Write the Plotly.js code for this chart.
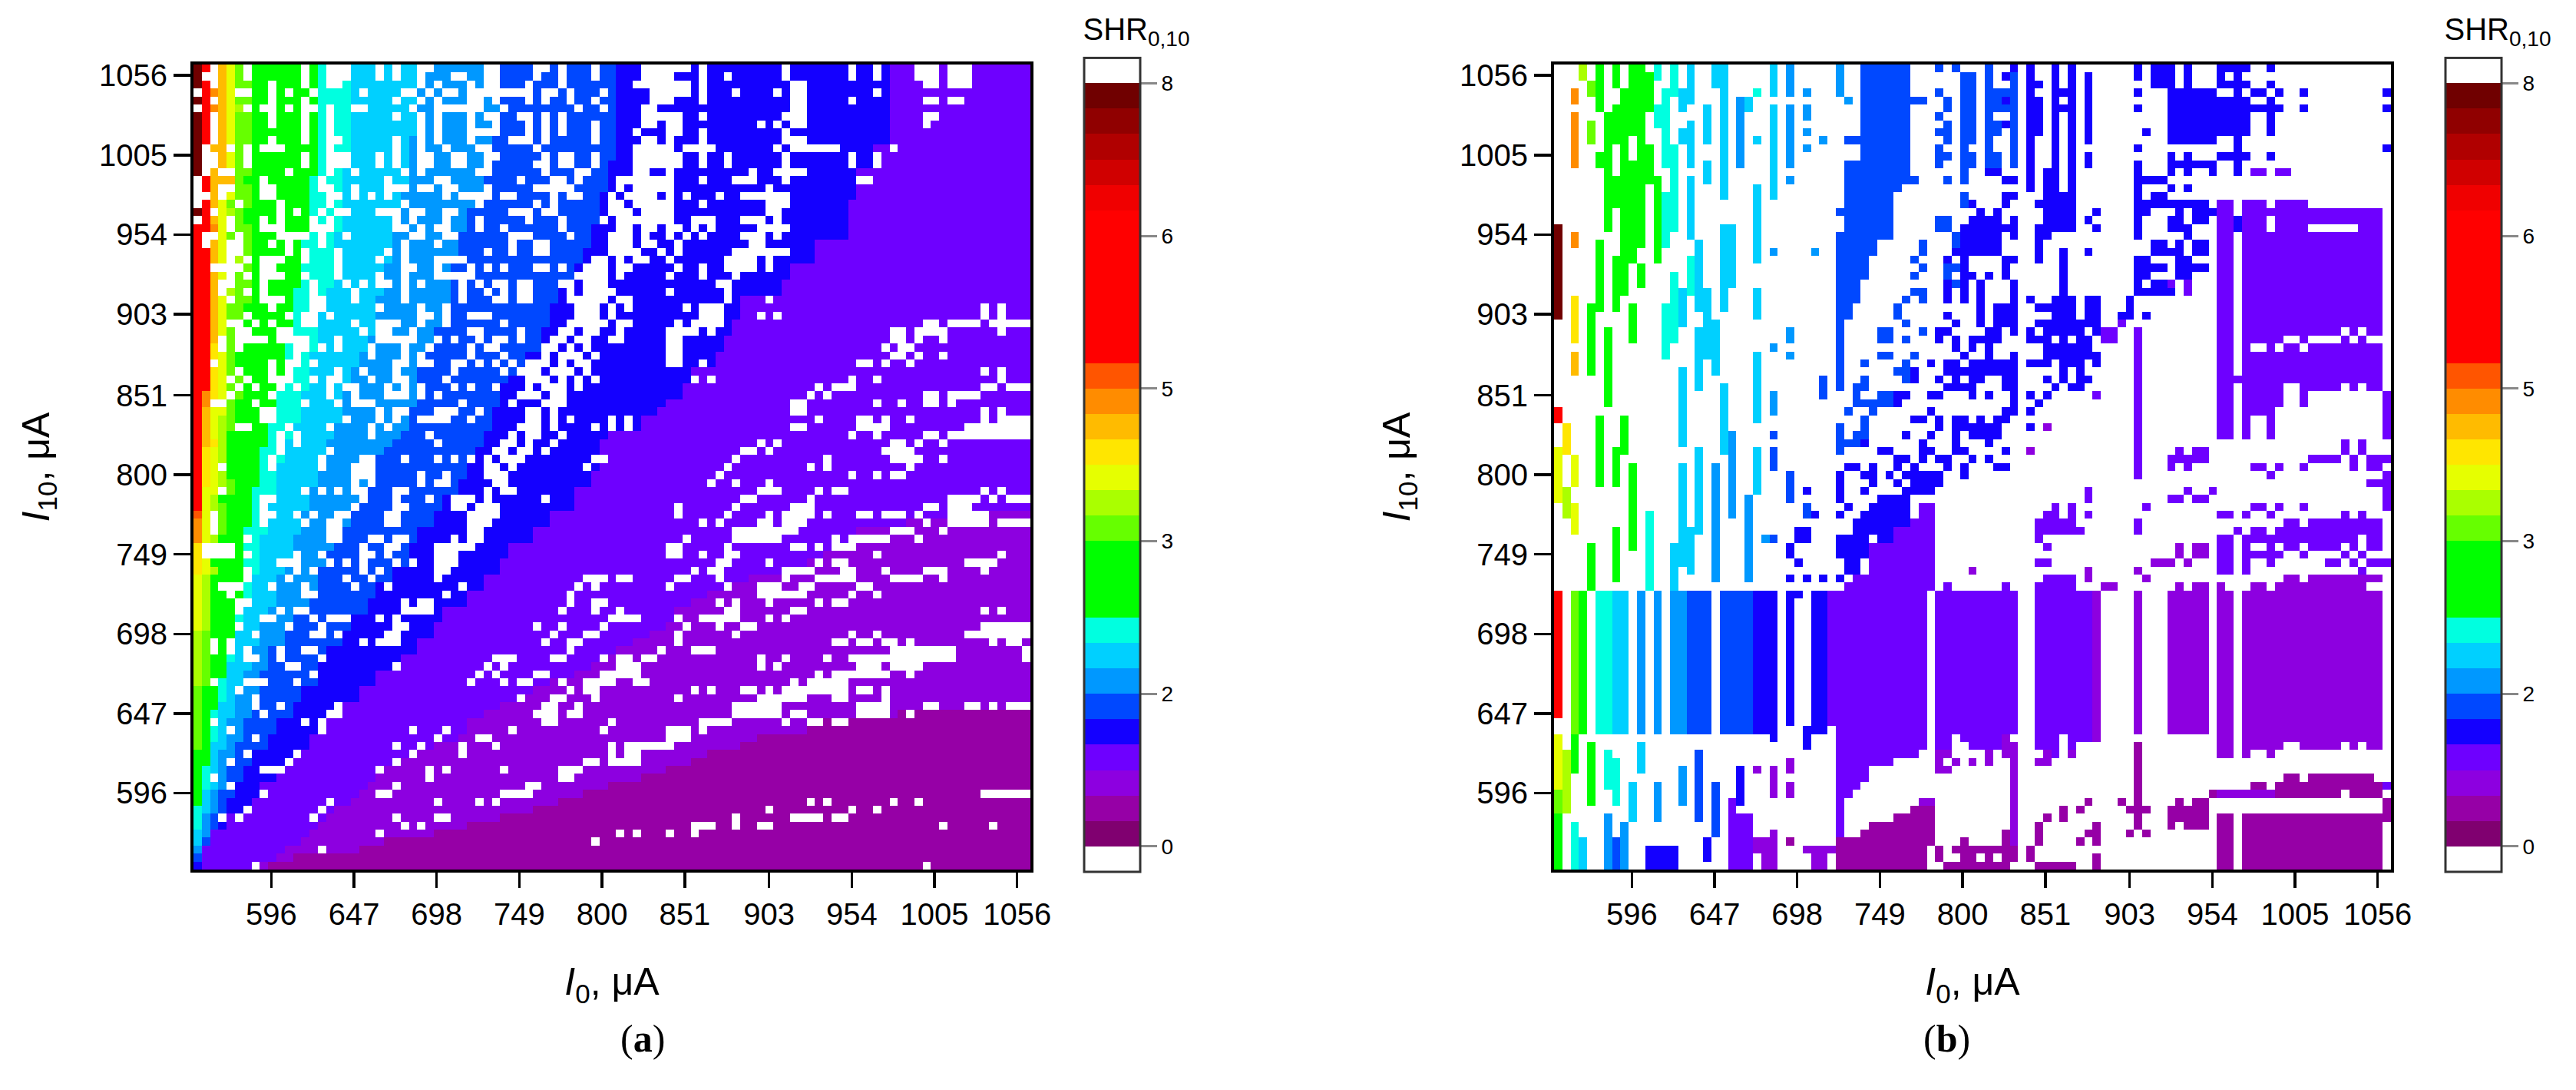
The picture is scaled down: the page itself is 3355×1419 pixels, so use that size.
<!DOCTYPE html>
<html>
<head>
<meta charset="utf-8">
<script src="https://cdn.plot.ly/plotly-3.0.1.min.js"></script>
<style>body{margin:0;background:#fff}</style>
</head>
<body>
<div id="chart" style="width:3355px;height:1419px"></div>
<script>
const tickValues = [596, 647, 698, 749, 800, 851, 903, 954, 1005, 1056]
const barTicks = [0, 6, 12, 18, 24, 30]
const barLabels = ['0', '2', '3', '5', '6', '8']
const bandColors = ['#800070','#9600a6','#8d00e0','#6e00ff','#1400ff','#0048ff','#0098ff','#00d0ff','#00ffe0','#00ff00','#00ff00','#00ff00','#66ff00','#aaff00','#e6ff00','#ffe600','#ffbb00','#ff8c00','#ff5500','#ff0000','#ff0000','#ff0000','#ff0000','#ff0000','#ff0000','#f00000','#d00000','#b00000','#900000','#700000']
// one letter per colour band, '.' is a missing cell
const bandCodes = '0123456789abcdefghijklmnopqrst'

// panel (a): first columns of each row, top row first
const aLeft = ['tj.gec.','t..gec.','tj.gecc','.jhge..','tj.gecc','.jhged.','tj.gecc','tj.gecc','tj.gecc','tj.gecc',
  't.gg.c.','t..gec.','t..gec.','t.g..cc','.jgggc','.jg..cc','..g.ecc','.jgec.c','tj.edc9','.jge.c9',
  'jjhe.cc','j..ec.c','j.ge..c','jjge..c','jjge.d.','jj....c','jjge.c.','jjg..cc','jjg.dc.','jjge.cc',
  'jjgecc','jjgecc.','jjge..9','jjgec.9','jjg.c..','jjf.c.9','jjfec99','jj.ec99','jjfec.9','jjfe.c.',
  'jjfec.9','jhfe.c','jh..c','jgeec','jgedc','jgedc','jged9','jgfd9','jfed9','jfed9',
  'jfe.9','jfed9','jfedc','jee.c','jed9','jedc','ie.c9','he.c9','he.c9','hed9',
  'f...9','f....','fe9','fed9','ed9','ed9','ed9','ed9','ed9','ed9','ed9','dc9','dc9','dc9','dc9','dc9','dc9','dc9',
  'c9','c9','c9','c9','c9','c9','c9','c9','99','99','99','99','99','99','99','9','9','9','9','9','9','9','9']
// panel (a): where each band starts along a row, as [last row, first column]
const aStart8 = [[13,15],[20,14],[27,13],[34,12],[38,11],[43,10],[47,9],[52,8],[57,7],[66,6],[71,5],[76,4],[80,3],[87,2],[92,1],[100,0]]
const aStart7 = [[12,19],[20,18],[27,17],[30,16],[35,15],[40,14],[44,13],[46,12],[49,11],[53,10],[58,9],[63,8],[66,7],[70,6],[74,5],[79,4],[84,3],[90,2],[95,1],[100,0]]
const aStart6 = [[8,27],[14,26],[20,25],[24,24],[28,23],[33,22],[35,21],[37,20],[40,19],[44,18],[46,17],[48,16],[52,15],[55,14],[58,13],[61,12],[63,11],[67,10],[69,9],[72,8],[75,7],[78,6],[81,5],[85,4],[90,3],[93,2],[97,1],[100,0]]
const aStart5 = [[5,37],[12,36],[15,35],[17,34],[20,33],[24,32],[29,31],[32,30],[34,29],[37,28],[42,27],[45,26],[46,25],[47,24],[48,23],[50,22],[53,21],[55,20],[57,19],[60,17],[62,16],[65,15],[68,14],[70,12],[72,11],[75,9],[78,8],[81,7],[84,6],[87,5],[90,4],[93,3],[96,2],[98,1],[100,0]]
const aStart4 = [[11,51],[15,50],[19,49],[22,48],[24,47],[27,46],[29,44],[32,43],[35,42],[38,40],[39,38],[42,37],[45,36],[47,35],[49,34],[51,33],[53,32],[55,30],[57,29],[59,27],[62,26],[64,24],[66,22],[68,21],[70,19],[72,18],[74,16],[77,15],[79,13],[81,12],[83,10],[85,9],[87,7],[89,6],[91,5],[93,4],[95,3],[97,2],[99,1],[100,0]]
const aStart3 = [[9,84],[12,82],[16,80],[21,79],[24,75],[26,72],[28,71],[31,66],[33,65],[35,64],[37,63],[39,60],[41,59],[42,57],[43,56],[45,54],[46,50],[50,49],[52,48],[55,46],[57,43],[59,41],[61,38],[63,37],[65,35],[67,33],[69,30],[71,29],[73,27],[75,25],[77,22],[79,20],[81,18],[83,16],[85,14],[87,12],[89,10],[91,8],[93,7],[95,4],[97,2],[100,1]]
const aStart2 = [[55,101],[56,92],[57,86],[59,80],[60,78],[61,76],[62,74],[63,73],[64,67],[65,64],[66,62],[67,60],[69,58],[70,57],[71,55],[72,53],[73,51],[74,50],[75,48],[76,46],[77,43],[78,41],[79,39],[80,37],[81,35],[83,33],[84,32],[85,29],[86,27],[87,25],[88,23],[89,22],[90,21],[91,20],[92,19],[93,17],[94,16],[95,15],[96,14],[97,13],[98,11],[99,10],[100,8]]
const aStart1 = [[80,101],[81,85],[82,75],[83,74],[84,68],[85,66],[86,62],[87,60],[88,57],[89,54],[90,50],[91,47],[92,44],[93,41],[94,37],[95,33],[96,29],[97,23],[98,20],[99,12],[100,9]]
// panel (a): missing cells per row, as column numbers
const aHoles = [
'6 13 16-18 22 24 27-28 35-36 41-42 44 48 54-59 61 71 79 82 87-89 91-93',
'13 16-18 22 24 27 31-32 35-36 41 44 48 54-57 61 64 71 79 82 87-89 91-93',
'9 13 16-17 27 29 33 35-36 40 44 53-59 61 72-73 88-89 91-93',
'9 11 14 20 25-26 28 30-31 33-40 42-43 45 49 55-59 61 65 70 72-73 82',
'9 13 24 27 29 33-34 36 40 42 45 48 55-57 61 72-73 79 88-89 91-92',
'8-9 11 13-14 16 19-20 26 29-34 37 46 49 54-55 72-73',
'9 13 16 24 27 29 33 35-36 39-40 42 44 54-58 61 71-73 88-89',
'9 13 16 27 29 33 36 40 42 44 48 54-55 57-58 68 70 72-73 88',
'13 16 27 29 33-36 40 42 44 48 53 57-58 61 71',
'9 13 16-17 24 27 29 33 38-40 42 48 54-55 57 61 71-73',
'8-10 16 24 27 30 34-35 41 53-57 59-62 70 72-77 84',
'13 16-18 22 24 27-28 31-32 35-36 42 44-45 48 53-58 61 64 71 79 82',
'13 16-18 22 24 27-28 31-32 35 41-42 44-45 48 53-58 61 64 71 79 82',
'11 16 19 25 27 34-35 42 46-47 53-54 57 67 70-73',
'8 15 23 29-30 39 43-44 46 51-57 61 65-67 71 80-81',
'8-9 15-16 19 23-25 27-28 30-31 35 41-45 51 53-57 69',
'8-9 16-17 19 21 23 30 32-35 37-38 43 45-46 50 52-55 57 59 63 66-71',
'10 16 25 34 41 43 50-51 53-57 61 69-71',
'10 12 15 17-18 22-24 26-27 30-31 38-40 42-43 50-52 54-57 69-70',
'8 10 14 16 24 26 30 34 40 44 49 51-57 60-62 66-68 70',
'8-10 14-16 24-25 27 29-30 34 37 44 51-52 54-55 57-58 60 62 68-71',
'10-13 15 18 26-27 30-31 38-40 45 50-52 54 57 59 61 66-68 70',
'9 11 15 25 29 38 41-42 50-52 54-55 58 67-68',
'11 13 17 23 25 35 38 41-42 50-53 56 58 65-71',
'8-10 13 17 22 25 29-32 48-49 51 53-54 57 64-67 69',
'8-9 17 25-26 29 33 35 37 41-42 44 47-49 51-52 58 61 64-67 69',
'8-10 13 17 22 25 29-33 46-49 51 57 61 65',
'8 14 18 20 22-23 25 27 32 34 36-37 39-40 44-45 47-49 63-64',
'8 14 19 25 32 35 37 39-40 45 47-50 57 64',
'8-10 14-15 19 25 32 36-37 39-40 45-49 51-52 64 69',
'9 14-15 22 27 30 46-48 50 52 59 61-63 95 97',
'11 13-14 16 27-28 30 33-35 46-48 50 61-63 68 70 95 97',
'7 9 13-14 19 22-24 27 30 37 45-49 51-52 58 60-63 88-89 91-94 96-100',
'6 10-11 20 22-23 26 33-34 39 44-45 47-48 51 57-60 62 84-85 87-90 97',
'7-8 10-13 17 22-26 29 31 34 36-37 39 43-44 46-47 50-51 57-58 84-85 87 90',
'12-13 15 17 21 25 28 33 35-36 42-43 45 47 57-58 83 85-86',
'12 21 25 27 33 37 42 44-46 48 57-58 84-85 87 90',
'9 11-12 14 24-25 27-28 31-32 34 36 38 40-42 44 46-47 57-58 61 80-81 83 86',
'9 11 17 20 24 31 37 39-41 43-45 47 95 97',
'9-11 14 16-17 21 24-25 30 40-42 44 46 48 60 62 79 82 97',
'7 10 12 16 18-19 23 25 27 31 33 36 40 42-44 46 75 77-79 95-96 98-100',
'9 16 19 23-25 27 29 39-41 43-44 74 76 88-89 91-94',
'7 13 17 19-21 32 38 42-44 72-73 82 85 88-89 91',
'8-9 22 24-25 29-31 34 40-41 43 72-73 95 97',
'8-9 18 22 24 27-30 33 40-41 43 45 50 52 75 80-81 83 86 95 97-100',
'5-6 11 16 21 23 39-41 43 48 50 52 72-73 80-83 93-100',
'10 12 21 28 38 40-41 44 79 82 88-89 91-100',
'10 12 29 37-38 40 43 68 70 84-85 87 90',
'10 16 36-37 39-40 42 66-67 69 83-86',
'9 15 20-21 25 29 31 33 35 37-39 48-49 65 76 84-87 90',
'9 15 19-21 35-36 38 47 64 74 76 86',
'19-21 27 30 35-37 63 79 82 84-85',
'19 21 27 29-30 36-37 62 65 69',
'13 15 17 19-20 24-25 35 37-38 68-70 75 77-78 95 97',
'8-9 20 24 28 31-33 35 42 66-67 74 91-94 96 98-100',
'8 19 24-25 31-32 34-36 58 65 72-74 88-89 91-93',
'8-9 12 14 17-18 23-24 33-36 58 64 69 71-74 76 80-81 83-85 87 91-95',
'8 13 16-17 23-24 33-35 61 63 68-69 71-73 88 91-95 97-100',
'16-17 33-34 65-72 84-86 90',
'6 16-17 21-22 24-25 31 33-34 59 65-70 77 79-83 87',
'1-4 20 23-24 29-33 57-58 64 72-73 75 77-79',
'1-4 6 12 15 20-21 23 29-31 57-58 61 64-65 82 97',
'10-12 16 18 20 24 26 29-31 63-64 69 75 77-78 93-96',
'6 12 14 20 22 29-30 60 62-63 71-74 78-79 83 88-90 95',
'6 11 18 21 29 47-49 51-52 58-59 63 71 75-79 84-87 90',
'3-5 9 13 19 23 32 46 48 57 64 68-70 73-74 80-81',
'4 13-14 30 45 68-73 79 82',
'5-6 25 27-28 45 48-49 63 65 69 75 77-78',
'5 10 12-13 25-28 44 48 51 64-65 72-73 95 97',
'8-9 14 16-18 22 24 50-53 58 61-65 69 71',
'5 11 15 24-25 41 44 49 59 63 66-67 95-100',
'7 14-15 17 23-24 43 47-48 58 65 79 82 93-100',
'2 4 20 22-24 42 45-46 58 77-78 80-81 83-84 86 96 98-99',
'2 4 6 10 13-14 45 56 60-62 84-91 100',
'6-7 10 15 36-38 43-44 49 51-52 54-55 68 71 76 79-91 100',
'11-12 24 35 37 51-53 68 70 80-82 84-87',
'14 34 36 41-42 49-53 75 77-83 86',
'2 6-8 12 33 37 39-40 44 47-50 53-54 72 74-78',
'5 45 47-48 60 62 66-67 69 71-78 80-81 83',
'7 39 43-44 48 58 68-73 77-78 83',
'7 10 17 42-43 46 65-70 80-83 88-89 93-94 96 98-100',
'8 16-17 41-43 45-46 65-70 72-73 80-83 86',
'2 13 15 42-43 50 61-64 71 74-75 77-78',
'4 15 26 30 38 49 57-59 61',
'7 29 34-35 57-59',
'24 27 32 36 50 52-57',
'6 12 26 32 50 52-53',
'4 11 24 47-48 50-53',
'8-10 22 28 30 37 44-46',
'2 28 44-45',
'4 24 40-41',
'8 22-23 37-40 95-100',
'16 29 34 36 74 76 84 87',
'6 15 69 79 82',
'3 5 14 24 29-30 65 72-75 77-78',
'25 27 60-62 65 68-69 90 96',
'22 51 53 57 60',
'48',
'15',
'',
'7 88']

// panel (b): filled patches, 'rows columns band', painted in this order
const bPatches = [
// far left, columns 0-24
'20-31 0 t','3-4 2 h','6-12 2 h','21-22 2 h','29-34 2 f','36-38 2 g','45-48 1 f','49-52 2 e','53-56 1 d','43-44 0 j','48-54 0 e',
'0-1 3 d','2-3 4 c','7-9 4 c','30-38 4 9','0-5 5 9','11-12 5 9','22-30 5 9','44-52 5 9','6-20 6 9','33-42 6 9',
'0-2 7 9','5-9 7 9','14-17 7 9','24-30 7 9','48-52 7 9','3-28 8 9','44-48 8 9','0-8 9 9','12-24 9 9','30-34 9 9','50-54 9 9',
'0-22 10 9','25-27 10 9','1-5 11 9','10-14 11 9','0-1 12 8','5-7 12 8','14-24 12 9','3-12 13 8','16-22 13 8','30-36 13 8',
'0-3 14 8','10-20 14 8','26-34 14 8','3-5 15 7','8-9 15 7','28-32 15 7','38-44 15 7','0-4 16 7','7-12 16 7','14-21 16 7','24-28 16 8',
'22-30 17 7','33-40 17 7','5-9 18 7','12-14 18 7','28-36 18 7','0-2 19 7','32-38 19 7','0-16 20 7','20-30 20 7','40-48 20 7','20-27 21 7',
'4-12 22 6','4-5 23 7','15-24 24 7','28-31 24 7','36-44 24 7','48-53 24 7','3 24 8','9 24 7',
'55-58 2 e','60-65 4 9','58-64 7 9','50-60 9 9','56-65 11 8','44-47 15 7','50-62 15 7','48-58 17 7','50-64 19 6','46-56 21 6','54-64 23 6','60-65 14 7','58-63 16 7',
// lower left stripes
'66-81 0 j','66-83 2 c','66-83 3 9','66-83 5-6 8','66-83 7-8 7','66-83 10 6','66-83 12 6','66-83 14-15 6','66-83 16-18 5','66-83 20-23 5','66-83 24 4',
'84-90 0 e','91-93 0 c','94-100 0 9','86-93 1 d','84-88 2 9','95-100 2 8','97-100 3 7','85-92 4 9','86-90 6 8','87-92 7 8','90-94 9 7','94-100 6 6','97-100 7 5','95-100 8 6',
'85-88 10 7','90-94 12 6','88-92 15 6','98-100 11-14 4','86-94 17 5','90-96 19 5','92-100 21 3','94-100 22-23 3','97-99 18 4','88-92 22 4',
// columns 24-36, upper half
'0-2 26 7','3 26 7','5-16 26 7','0-2 28 6','3 28 6','5-12 28 6','14 28 6','3 30 6','5-6 30 6','8 30 6','10 30 6','9 32 6','0-3 34 6','4 35 6',
'23 26 6','23 31 6','33-34 28 6','35 26 6','36 28 6','41-43 26 6','46 26 5','48-50 26 5','51-54 28 5','53 30 4','55-56 30 5','56 31 4','39-41 32 5',
// the wide blue ridge
'0-8 37-42 5','4 43-44 5','9 35-42 5','10-11 37-42 5','12-13 35-42 5','14 35-43 5','15 35-41 5','16-17 35-40 5','18 34-40 5','19-20 35-40 5','21 34-40 5','22-23 34-38 5','24-26 34-37 5','27-29 34-36 5','30-31 34-35 5','32-40 34 5',
'33-34 39-40 5','22-23 44 5','24 43 5','25 44 5','26 43 5','28 43-44 5','29 42 5','29 44 5','30-31 41 5','32 42 5','33 44 5','34 42 5','36 39-40 5','37 37 5','36 43 5','37 42 5','38 41-42 5','39 42 5','39 37 5','40 36-37 5','41-42 36 5','41 39-40 5','42 36-40 5','43 35 5','43 38 5','44 37 5','45-47 34 5','45 37 5','46 36-37 5','47 34-36 5','48 34 5',
'37 45 4','38 43 4','39 43 4','41 41-42 4','42 41 4','47 37 4',
// second blue group
'0 46 5','3 46 5','6 46 5','8 46 5','10-12 46 5','4-5 47 5','7-9 47 5','11 47 5','14 47 5','0 48 5','1-9 49-50 5','10 49 5','11-12 49-50 5','13-14 49 5','16-17 49 5',
'0-12 52 5','3-5 53 5','7-8 53 5','11-12 53 5','3-5 54 5','4 54 4','1-12 55 5','7 54 4','0 55 4','1 54 4','13 52 4','13 53 4','14 54-55 4','17 50 4','16 54-55 4','17 54 4',
'18 51 4','18 53 4','19-20 46-47 5','19 50-53 4','19 55 4','20 49-55 4','21 49-53 4','21 55 4','21-22 48 5','22 49-53 4','23 48-53 4','24 47 4','24 49 4','24 54-55 4','25 47-48 5','25 49 4','25 54 4','26 47 5','26 49-50 4','26 52 4','26 54 4',
'27-29 47 4','27 48 5','27-29 49 4','27-29 51 4','27-29 55 4','30 51 4','30 53-55 4','31 47 4','31 51 4','31 53-55 4','32 48 4','32 51 4','32 53-55 4','33 46-47 4','33 52-53 4','33 55 4','34 46 4','34 48 4','34 50-53 4','35 48 4','35 50 4','35 52 4','36 49 4','36 52 4','36 55 4','37 47-48 4','37 50-55 4','38 47-55 4','39 46 4','39 48 4','39 50-51 4','39 54-55 4','40 47-50 4','40 54-55 4','41 45-46 4','41 50 4','41 52 4','41 55 4','42 55 4','43 45 4','43 54-55 4','44 43-44 4','44 46 4','44 48-49 4','44 51 4','44 53-54 4','45 46 4','45 48-53 4','46 42 4','46 45 4','46 48 4','46 50-53 4','47 44 4','47 48 4','47 52 4','48 39-40 4','48 44-45 4','48 48-49 4','48 54 4','49 41-42 4','49 44 4','49 46-47 4','49 50 4','49 52 4','50 35-36 4','50 38 4','50 41 4','50 43 4','50 47 4','50 49 4','50 53-54 4',
'51 34 4','51 37-38 4','51 40 4','51 42-46 4','51 49 4','52 34 4','52 38 4','52 41 4','52 43-46 4','53 34 4','53 37 4','53 42-45 4','54 34 4','54 39-42 4','55 35 4','55 38-42 4','55 44-45 3','56 34 4','56 37-42 4','56 44-45 3','57 36-42 4','57 43-45 3','58 36-40 4','58 41-45 3',
// third blue group
'0-15 57 4','2 58 4','4 58 4','5-8 58 4','0-12 60 4','13-15 59-60 4','0-15 62 4','3 60-62 4','5 60-62 4','16-19 59-62 4','20 58-62 4','21 58-59 4','22-23 58 4','1-9 64 4','11-12 64 4','17 58 4','18 65 4','19 64 4','20 65 4','24 58 4','23-24 61 4','23 64 4','25-28 61 4',
'29 57 4','29 60-62 4','29 64-65 4','30 58-62 4','30 64-65 4','31 60-62 4','31 64-65 4','32 58-65 4','33 57 4','33 59-63 4','33 65 4','33 66-67 3','34 57-59 4','34 61 4','34 63-64 4','34 66-67 3','35 59-64 4','36 59-65 4','37 57-59 4','37 61-63 4','37 65 4','38 61 4','38 63 4','39 59 4','39 61 4','39 63-64 4','40 60 4','40 62-63 4','41 57 4','41 59 4','41 65 3','42 58 4','43 57 4','45 57 4','45 59 2','48 57 2',
// columns 68-82, blue and purple
'0-1 70 4','3 70 4','5 70 4','10 70 4','8 71 4','12-21 70 4','14 71-73 4','17 72-73 4','18 71 4','0-2 72-74 4','0-2 76 4','0-1 80 4','3-9 74-79 4','11 74 4','11 76 4','12 74-79 4','13 74 4','13 76 4','13 79 4','15 74 4','15 76 4',
'16 72-73 4','17 70-71 4','17 74-78 4','18 75 4','18 77-80 4','19 74-75 4','19 77-78 4','20 74-76 4','21 76 4','22 72-73 4','22 75 4','22 77-78 4','23 72-75 4','23 77-78 4','24 70-71 4','24 75-76 4','25 70-71 4','25 72-73 4','25 75-78 4','26 70-71 4','26 75-76 4','27 70 4','27 72-73 4','27 74 3','27 76 3','28 70-74 4','28 76 3','29 69 4','30 69 4','31 68-69 4','31 71 4','32 68 3',
'33-51 70 3','48 75 3','48 77-78 3','49 74-78 3','50 74 3','50 76 3','53 76 3','53 79 3','54 74-75 3','54 77-78 3','53 64 3','54 64 3','56 64 3','55 60 3','55 62 3','56 59-60 3','56 62 3','57 58-62 3','58 58-63 3','57-58 70 3','55 71 3',
// right side, top
'0 80-83 4','0 86 4','1 82 4','2 80-83 4','2 86 4','3 82 4','3 84-85 4','3 87 4','3 90 4','3 100 4','4 80-83 4','4 86 4','5 80-87 4','5 90 4','5 100 4','6-8 80-83 4','6-8 86 4','9 82 4','10 82 4','10 100 4','11 80-83 4','11 86 4','12-13 82 4','13 84-85 3','13 87-88 3',
'17-46 80-81 3','19-20 82 4','39 82 3','17 83-85 3','17 87-90 3','18-40 83-99 3','41-42 83-87 3','41-42 90 3','43 83-86 3','44-46 83 3','44-46 86 3','41-46 100 3',
'19-20 86 .','20 91-96 .','33 95 .','33 97 .','34 88-89 .','34 91-94 .','34 96 .','34 98-99 .','35 84-85 .','35 87 .','35 90 .','40 88-89 .','40 95 .','40 97 .',
'47-48 95 3','47-48 97 3','49 91-94 3','49 96 3','49 98-100 3','50 84-85 3','50 87 3','50 90 3','50 96 3','50 98-99 3','51 86 3','51 100 3','52 98-100 3','53-54 100 3','55 84-85 3','55 87 3','55 90 3','55 100 3','56 80-81 3','56 83 3','56 86 3','56 95 3','56 97 3','57 88-89 3','57 91-99 3','58 82 3','58 84-85 3','58 87-99 3',
'59 80-81 3','59 83-99 3','59 97 .','60 80-81 3','60 83 3','60 86 3','60 88-89 3','60 91-94 3','60 96 3','60 98-99 3','61 80-81 3','61 83-87 3','61 90 3','61 95 3','61 97 3','62 80-81 3','62 83 3','62 86 3','62 93-94 3','62 96 3','62 98-100 3','63 80-81 3','63 83 3','63 97 3',
// the long block across rows 64-86
'59 25 6','59 26 5','58 29-30 4','59 29-30 4','60-61 28 4','62 29 4','59-61 34-37 4','62-63 35-36 4','59 39-40 4','59 41-45 3','60-65 38-45 3','64 28 4','64 30 4','64 32 4','64 34 4','64-65 36-37 3','65 35 3','63 50 2',
'62 58-59 3','60 59 3','59 58 3','58 58-62 3','64 59-62 3','65 58-62 3','63-64 64 2','63 70 2','64 71 2','65 47 3','65 54 3','65 66-67 2','65 75 2','65 77-78 2','60-61 75 2','60-61 77-78 2','62 72-74 2','62 76 2','65 80 2',
'66-82 25-26 4','66-82 28 4','66 29 4','66-83 31-32 4','66-82 33-44 3','66-83 46-55 3','66-83 58-64 3','66-83 65 2','66-83 70 2','66-83 74-78 2','66-85 80-81 2','64 88-89 2','64 91-97 2','64 98-99 2','65 84-85 2','65 87-97 2','66-85 83-99 2','86 83 2','86 86 2','86 80-81 2',
'85 88-89 .','85 95 .','85 97 .',
'83 25 4','83-84 26 4','83-85 30 4','83-85 34-44 3','86 34-43 3','87 34-40 3','88-89 34-37 3','90 34-36 3','91 34-35 3','92-96 34 3',
'84-85 46-47 3','84 49 3','84-85 50-53 3','84 54 2','85-86 54 2','86 46-47 2','87-88 46 2','88 47 2','87 48 2','86 52 2','87 50 2','87 52 2','85-97 55 2',
'84 58-60 3','84 62-64 3','85 58-60 3','85 62 3','86 59 2','87 58-59 2','86 62 2','86 60 3','84 65 2',
'85-93 70 1','93 69-71 1','94-95 70 1','96 69 1','96 71 1','92 68 1','91 79-80 1','83 74 2','83 76 2',
// bottom rows
'92 44-45 2','93 43-45 1','94 41-45 1','95 38-45 1','96 37-45 1','97 34-45 1','98-100 34-44 1','92 75 1','92 77-78 1','93-95 74-78 1','95 75 .',
'97-98 24-25 2','99-100 25 2','96-100 26 2','97 28 1','98 30-33 2','99-100 31-32 2','88-91 26 2','87-88 28 2','90-91 28 2','88 24 2','98-99 46 1','98-99 48-55 1','99 48 .','99 51 .','99 53 .','97 49 1','100 47-54 1','96-97 54 1',
'98-99 57 1','100 58-62 1','95-97 58 1','94 59 1','93-94 61 1','93 63 1','92 64 1','96 64-65 1','97 63 1','95 65 1','97 65 1','99-100 65 1',
'89 88-89 1','89 91-98 1','90 84-85 1','90 87-99 1','90 100 3','91 80-86 2','91 87-99 1','92-94 100 1','94-100 80-81 1','94-100 83-99 1','91 95 .'
]

const n = 101
const xs = [], ys = []
for (let i = 0; i < n; i++) { xs.push(548 + 5.11 * (i + .5)); ys.push(1063 - 5.11 * (i + .5)) }

function emptyGrid() {
  const g = []
  for (let r = 0; r < n; r++) g.push(new Array(n).fill(null))
  return g
}
function bandValue(code) {
  // a cell sits in the middle of its band
  return code === '.' ? null : bandCodes.indexOf(code) + .5
}
function parseRange(text) {
  const p = text.split('-').map(Number)
  return [p[0], p.length > 1 ? p[1] : p[0]]
}
function paintStarts(g, starts, code) {
  let k = 0
  for (let r = 0; r < n; r++) {
    while (starts[k][0] < r) k++
    for (let c = starts[k][1]; c < n; c++) g[r][c] = bandValue(code)
  }
}
function buildPanelA() {
  const g = emptyGrid()
  for (let r = 0; r < n; r++) {
    for (let c = 0; c < n; c++) g[r][c] = bandValue('9')
    const left = aLeft[r] || ''
    for (let c = 0; c < left.length; c++) g[r][c] = bandValue(left[c])
  }
  paintStarts(g, aStart8, '8')
  paintStarts(g, aStart7, '7')
  paintStarts(g, aStart6, '6')
  paintStarts(g, aStart5, '5')
  paintStarts(g, aStart4, '4')
  paintStarts(g, aStart3, '3')
  paintStarts(g, aStart2, '2')
  paintStarts(g, aStart1, '1')
  aHoles.forEach((row, r) => {
    if (!row) return
    row.split(' ').forEach(part => {
      const cols = parseRange(part)
      for (let c = cols[0]; c <= cols[1]; c++) g[r][c] = null
    })
  })
  return g
}
function buildPanelB() {
  const g = emptyGrid()
  bPatches.forEach(patch => {
    const p = patch.split(' ')
    const rows = parseRange(p[0]), cols = parseRange(p[1])
    for (let r = rows[0]; r <= rows[1]; r++) {
      for (let c = cols[0]; c <= cols[1]; c++) g[r][c] = bandValue(p[2])
    }
  })
  return g
}

// white bands above and below the coloured part of the bar
let scale = [[0, '#ffffff'], [1 / 32, '#ffffff']]
bandColors.forEach((col, i) => { scale.push([(i + 1) / 32, col]); scale.push([(i + 2) / 32, col]) })
scale.push([31 / 32, '#ffffff']); scale.push([1, '#ffffff'])

function bar(px) {
  return {
    x: px / 3355, xanchor: 'left', thickness: 73, thicknessmode: 'pixels', xpad: 0, ypad: 0,
    y: 1 - 20 / 1419, yanchor: 'top', len: 1115, lenmode: 'pixels',
    outlinecolor: '#333', outlinewidth: 3,
    tickmode: 'array', tickvals: barTicks, ticktext: barLabels, ticks: 'outside', ticklen: 21, tickwidth: 3, tickcolor: '#888',
    tickfont: { size: 28, color: '#000' },
    title: { text: 'SHR<sub>0,10</sub>', side: 'top', font: { size: 40, color: '#000' } }
  }
}
function heat(z, xa, ya, px) {
  return { type: 'heatmap', x: xs, y: ys, z: z, xaxis: xa, yaxis: ya, zmin: -1, zmax: 31, colorscale: scale, zsmooth: false, hoverongaps: false, colorbar: bar(px) }
}
function axis(domain, title, anchor) {
  return {
    domain: domain, range: [548, 1064.2], anchor: anchor, tickmode: 'array', tickvals: tickValues, ticktext: tickValues.map(String),
    ticks: 'outside', ticklen: 22, tickwidth: 3.5, tickcolor: '#000', tickangle: 0, showline: true, mirror: true, linecolor: '#000', linewidth: 4,
    showgrid: false, zeroline: false, tickfont: { size: 40, color: '#000' },
    title: { text: title, font: { size: 50, color: '#000' }, standoff: 50 }
  }
}
const xTitle = '<i>I</i><sub>0</sub>, μA', yTitle = '<i>I</i><sub>10</sub>, μA'
const yDomain = [1 - 1132 / 1419, 1 - 84 / 1419]
const layout = {
  width: 3355, height: 1419, margin: { l: 0, r: 0, t: 0, b: 0 }, paper_bgcolor: '#fff', plot_bgcolor: '#fff',
  font: { family: '"Liberation Sans", Arial, sans-serif' }, showlegend: false,
  xaxis: Object.assign(axis([252 / 3355, 1342 / 3355], xTitle, 'y'), { ticklen: 20 }),
  yaxis: Object.assign(axis(yDomain, yTitle, 'x'), { range: [547, 1063] }),
  xaxis2: Object.assign(axis([2024 / 3355, 3114 / 3355], xTitle, 'y2'), { ticklen: 20 }),
  yaxis2: Object.assign(axis(yDomain, yTitle, 'x2'), { range: [547, 1063] }),
  annotations: [
    { text: '(<b>a</b>)', xref: 'paper', yref: 'paper', x: 806 / 3355, y: 1 - 1382 / 1419, showarrow: false, font: { family: '"Liberation Serif", serif', size: 50, color: '#000' } },
    { text: '(<b>b</b>)', xref: 'paper', yref: 'paper', x: 2568 / 3355, y: 1 - 1382 / 1419, showarrow: false, font: { family: '"Liberation Serif", serif', size: 50, color: '#000' } }
  ]
}
Plotly.newPlot('chart', [heat(buildPanelA(), 'x', 'y', 1412), heat(buildPanelB(), 'x2', 'y2', 3185)], layout, { displayModeBar: false, staticPlot: true })
</script>
</body>
</html>
